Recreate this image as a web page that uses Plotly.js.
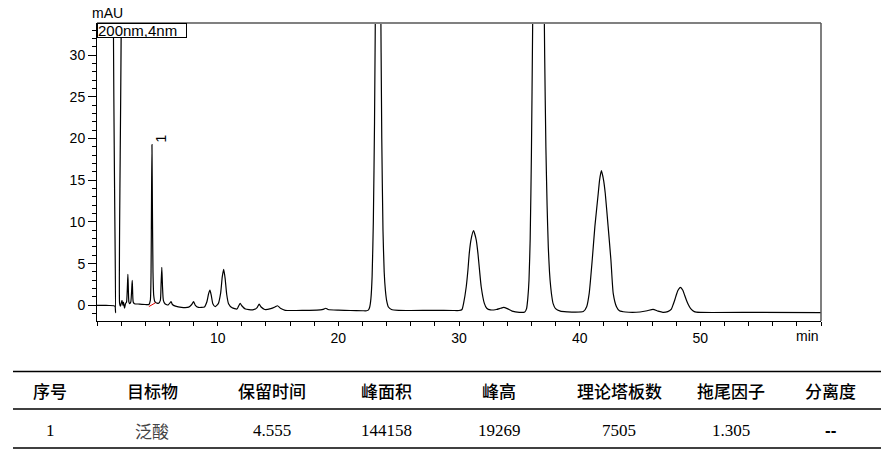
<!DOCTYPE html>
<html>
<head>
<meta charset="utf-8">
<script src="https://cdn.plot.ly/plotly-3.0.1.min.js"></script>
<style>
  html, body { margin: 0; padding: 0; background: #fff; }
  #chart { width: 893px; height: 456px; }
</style>
</head>
<body>
<div id="chart"></div>
<script>
// ---- Data: [time (min), signal (mAU)] ----
const chromatogram = [
  [0.0, 0.0], [0.5, 0.0], [1.0, -0.02], [1.4, -0.05], [1.5, -0.15],
  [1.54, -0.9], [1.56, 60], [1.84, 60], [1.87, 0.3], [1.95, -0.1],
  [2.07, 0.6], [2.15, 0.0], [2.2, 0.4], [2.28, -0.35], [2.36, 0.2], [2.45, 0.4],
  [2.56, 3.7], [2.64, 0.4], [2.7, 0.2], [2.8, 0.4], [2.92, 3.0], [3.0, 0.4],
  [3.1, 0.2], [3.5, 0.15], [4.0, 0.1], [4.3, 0.1], [4.42, 0.6], [4.48, 4],
  [4.52, 13], [4.555, 19.27], [4.59, 12], [4.64, 4], [4.7, 1.2], [4.78, 0.5],
  [4.9, 0.3], [5.1, 0.25], [5.25, 0.6], [5.31, 2.5], [5.37, 4.55], [5.43, 2.2],
  [5.5, 0.6], [5.65, 0.15], [5.9, 0.05], [6.05, 0.3], [6.14, 0.45], [6.25, 0.1],
  [6.5, -0.1], [7.0, -0.25], [7.6, -0.22], [7.85, 0.1], [8.0, 0.45], [8.15, 0.0],
  [8.4, -0.25], [8.9, -0.2], [9.1, 0.4], [9.25, 1.4], [9.36, 1.83], [9.47, 1.2],
  [9.6, 0.2], [9.8, -0.15], [10.05, 0.2], [10.25, 1.5], [10.38, 3.4], [10.5, 4.3],
  [10.62, 3.2], [10.75, 1.3], [10.9, 0.2], [11.2, -0.3], [11.6, -0.45], [11.75, -0.05],
  [11.87, 0.24], [12.0, -0.05], [12.3, -0.45], [12.9, -0.55], [13.25, -0.3], [13.44, 0.15],
  [13.6, -0.2], [13.9, -0.5], [14.4, -0.4], [14.75, -0.2], [14.96, -0.05], [15.2, -0.35],
  [15.6, -0.6], [16.5, -0.62], [17.5, -0.6], [18.5, -0.55], [18.8, -0.45], [18.95, -0.35],
  [19.15, -0.5], [20, -0.58], [21, -0.62], [22, -0.65], [22.35, -0.65],
  [22.5, -0.55], [22.6, -0.2], [22.7, 0.8], [22.8, 3.5], [22.9, 10], [23.0, 22],
  [23.1, 42], [23.2, 80], [23.3, 110], [23.4, 80], [23.5, 40], [23.6, 20], [23.7, 9],
  [23.8, 4], [23.9, 1.8], [24.0, 0.6], [24.15, -0.2], [24.4, -0.5], [25, -0.6],
  [26, -0.62], [28, -0.6], [29.5, -0.62], [30.0, -0.62],
  [30.25, -0.5], [30.38, 0.24], [30.6, 2.23], [30.74, 4.23], [30.85, 6.23], [30.99, 7.83],
  [31.2, 8.95], [31.43, 7.83], [31.57, 6.23], [31.7, 4.23], [31.84, 2.23], [32.1, 0.24],
  [32.3, -0.35], [32.6, -0.55], [33.1, -0.5], [33.45, -0.35], [33.7, -0.25], [34.0, -0.4],
  [34.4, -0.7], [35.0, -0.84], [35.45, -0.8],
  [35.6, -0.4], [35.7, 0.8], [35.8, 3], [35.9, 8], [36.0, 18], [36.1, 33], [36.2, 52],
  [36.4, 85], [36.6, 100], [36.8, 85], [37.0, 45], [37.1, 30], [37.2, 19], [37.3, 12],
  [37.4, 7], [37.5, 4], [37.6, 2.2], [37.7, 1.0], [37.8, 0.2], [38.0, -0.4], [38.4, -0.7],
  [39.0, -0.78], [39.6, -0.82], [40.3, -0.75], [40.58, -0.16], [40.79, 1.44], [41.04, 5.43],
  [41.26, 9.43], [41.54, 13.43], [41.65, 15.02], [41.8, 16.14], [41.98, 15.02], [42.12, 13.43],
  [42.36, 9.43], [42.59, 5.43], [42.78, 1.44], [43.05, -0.16], [43.3, -0.65], [43.8, -0.8],
  [45.0, -0.8], [45.6, -0.65], [46.08, -0.48], [46.5, -0.7], [46.9, -0.84], [47.3, -0.75],
  [47.6, -0.45], [47.75, 0.1], [47.88, 0.64], [48.0, 1.2], [48.15, 1.8], [48.35, 2.16],
  [48.55, 1.8], [48.7, 1.2], [48.84, 0.64], [49.0, 0.1], [49.2, -0.4], [49.5, -0.76],
  [50, -0.85], [55, -0.84], [60, -0.88]
];

// integration baseline drawn under peak 1
const peak1Baseline = [[4.3, -0.15], [4.84, 0.3]];

// peak 1 info
const peakLabels = ['1'];
const peakTimes = [4.555];
const peakHeights = [19.27];

// axis tick labels
const xTickVals = [10, 20, 30, 40, 50];
const yTickVals = [0, 5, 10, 15, 20, 25, 30];

// result table
const tableHeader = ['序号', '目标物', '保留时间', '峰面积', '峰高', '理论塔板数', '拖尾因子', '分离度'];
const tableRow = ['1', '泛酸', '4.555', '144158', '19269', '7505', '1.305', '--'];

// ---- Layout geometry (pixels) ----
const W = 893, H = 456;
const M = { l: 97, r: 72, t: 23, b: 135 };
const plotW = W - M.l - M.r, plotH = H - M.t - M.b;
const px2x = p => (p - M.l) / plotW;
const px2y = p => (H - M.b - p) / plotH;
const colX = [50, 152, 271.5, 386, 499, 619, 730.5, 830];
const headerY = 390, rowY = 430;
const lineYs = [371.5, 409, 448];
const lineX0 = 13, lineX1 = 881;

const traces = [
  {
    x: chromatogram.map(p => p[0]),
    y: chromatogram.map(p => p[1]),
    type: 'scatter', mode: 'lines',
    line: { color: '#000', width: 1.2, shape: 'spline', smoothing: 0.5 },
    hoverinfo: 'skip'
  },
  {
    x: peak1Baseline.map(p => p[0]),
    y: peak1Baseline.map(p => p[1]),
    type: 'scatter', mode: 'lines',
    line: { color: '#e00000', width: 1 },
    hoverinfo: 'skip'
  }
];

const annotations = [];
// axis unit labels
annotations.push({ xref: 'paper', yref: 'paper', x: 0, y: 1, xanchor: 'center', yanchor: 'bottom',
  xshift: 10, yshift: 0, text: 'mAU', showarrow: false,
  font: { family: 'Liberation Sans, Arial, sans-serif', size: 14, color: '#000' } });
annotations.push({ xref: 'paper', yref: 'paper', x: 1, y: 0, xanchor: 'right', yanchor: 'top',
  yshift: -5, text: 'min', showarrow: false,
  font: { family: 'Liberation Sans, Arial, sans-serif', size: 14, color: '#000' } });
// channel box
annotations.push({ xref: 'paper', yref: 'paper', x: 0, y: 1, xanchor: 'left', yanchor: 'top',
  text: '200nm,4nm', showarrow: false, bordercolor: '#000', borderwidth: 1, borderpad: 0,
  bgcolor: '#fff', width: 88, height: 13, align: 'left',
  font: { family: 'Liberation Sans, Arial, sans-serif', size: 15, color: '#000' } });
// peak labels
peakLabels.forEach((lab, i) => {
  annotations.push({ x: peakTimes[i], y: peakHeights[i], xref: 'x', yref: 'y', text: lab,
    showarrow: false, textangle: -90, xshift: 9, yshift: 6,
    font: { family: 'Liberation Sans, Arial, sans-serif', size: 14, color: '#000' } });
});
// table
tableHeader.forEach((h, i) => {
  annotations.push({ xref: 'paper', yref: 'paper', x: px2x(colX[i]), y: px2y(headerY),
    xanchor: 'center', yanchor: 'middle', text: h, showarrow: false,
    font: { family: 'Noto Sans CJK SC, sans-serif', size: 17, color: '#000', weight: 500 } });
});
tableRow.forEach((v, i) => {
  const isCJK = /[\u4e00-\u9fff]/.test(v);
  const isDash = v === '--';
  annotations.push({ xref: 'paper', yref: 'paper', x: px2x(colX[i]), y: px2y(rowY),
    xanchor: 'center', yanchor: 'middle', text: v, showarrow: false,
    font: isCJK ? { family: 'Noto Sans CJK SC, sans-serif', size: 17, color: '#444' }
                : { family: isDash ? 'Liberation Sans, Arial, sans-serif' : 'Liberation Serif, Times New Roman, serif',
                    size: 17, color: '#000', weight: isDash ? 'bold' : 'normal' } });
});

const shapes = [
  // gray top / right frame
  { type: 'line', xref: 'paper', yref: 'paper', x0: 0, x1: 1, y0: 1, y1: 1, line: { color: '#808080', width: 2 } },
  { type: 'line', xref: 'paper', yref: 'paper', x0: 1, x1: 1, y0: 0, y1: 1, line: { color: '#555', width: 1.5 } }
];
lineYs.forEach(py => {
  shapes.push({ type: 'line', xref: 'paper', yref: 'paper', x0: px2x(lineX0), x1: px2x(lineX1),
    y0: px2y(py), y1: px2y(py), line: { color: '#000', width: 1.3 } });
});

const layout = {
  width: W, height: H,
  margin: M,
  paper_bgcolor: '#fff', plot_bgcolor: '#fff',
  showlegend: false,
  font: { family: 'Liberation Sans, Arial, sans-serif', size: 14, color: '#000' },
  xaxis: {
    range: [0, 60], showgrid: false, zeroline: false,
    showline: true, linecolor: '#000', linewidth: 1,
    tickmode: 'array', tickvals: xTickVals, ticktext: xTickVals.map(String),
    ticks: 'outside', ticklen: 4, tickwidth: 1, tickcolor: '#000',
    minor: { tickmode: 'linear', tick0: 0, dtick: 2, ticks: 'outside', ticklen: 4, tickwidth: 1, tickcolor: '#000' },
    tickfont: { size: 14, color: '#000' }
  },
  yaxis: {
    range: [-1.88, 33.85], showgrid: false, zeroline: false,
    showline: true, linecolor: '#000', linewidth: 1,
    tickmode: 'array', tickvals: yTickVals, ticktext: yTickVals.map(String),
    ticks: 'outside', ticklen: 8, tickwidth: 1, tickcolor: '#000',
    minor: { tickmode: 'linear', tick0: 0, dtick: 1, ticks: 'outside', ticklen: 4, tickwidth: 1, tickcolor: '#000' },
    tickfont: { size: 14, color: '#000' }
  },
  annotations: annotations,
  shapes: shapes
};

Plotly.newPlot('chart', traces, layout, { displayModeBar: false, staticPlot: true });
</script>
</body>
</html>
